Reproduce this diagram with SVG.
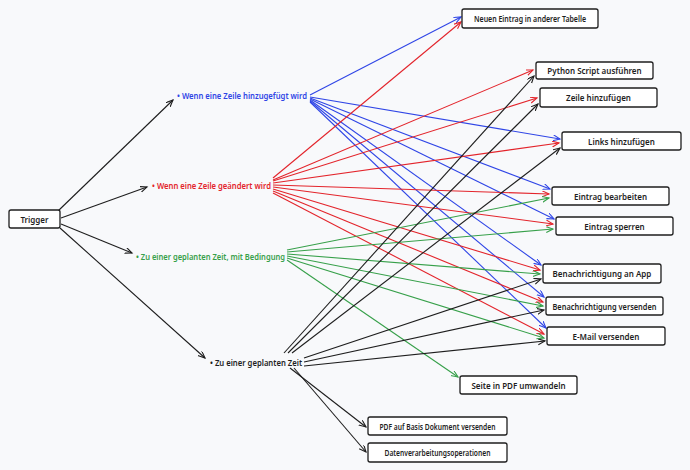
<svg xmlns="http://www.w3.org/2000/svg" width="690" height="470" viewBox="0 0 690 470">
<style>
.bg{fill:#f8f9fb}
.box{fill:#ffffff;stroke:#1e1e1e;stroke-width:1.3}
.t{font-family:"Noto Sans","Liberation Sans",sans-serif;font-size:8px;font-weight:600;fill:#1e1e1e;text-anchor:middle;dominant-baseline:central}
.lbl{font-family:"Noto Sans","Liberation Sans",sans-serif;font-size:8.5px;font-weight:600;dominant-baseline:central}
.c{fill:none;stroke-width:1.1}
.k{stroke:#1e1e1e}
.b{stroke:#2f45e6}
.r{stroke:#e3242b}
.g{stroke:#37a04a}
</style>
<defs>
<marker id="mk" markerWidth="10" markerHeight="8" refX="7" refY="3" orient="auto" markerUnits="userSpaceOnUse"><path d="M0,0 L7,3 L0,6" fill="none" stroke="#1e1e1e" stroke-width="1.1"/></marker>
<marker id="mb" markerWidth="10" markerHeight="8" refX="7" refY="3" orient="auto" markerUnits="userSpaceOnUse"><path d="M0,0 L7,3 L0,6" fill="none" stroke="#2f45e6" stroke-width="1.1"/></marker>
<marker id="mr" markerWidth="10" markerHeight="8" refX="7" refY="3" orient="auto" markerUnits="userSpaceOnUse"><path d="M0,0 L7,3 L0,6" fill="none" stroke="#e3242b" stroke-width="1.1"/></marker>
<marker id="mg" markerWidth="10" markerHeight="8" refX="7" refY="3" orient="auto" markerUnits="userSpaceOnUse"><path d="M0,0 L7,3 L0,6" fill="none" stroke="#37a04a" stroke-width="1.1"/></marker>
</defs>
<rect class="bg" x="0" y="0" width="690" height="470"/>
<g id="connectors">
<g class="c k" marker-end="url(#mk)">
<line x1="58" y1="211" x2="173" y2="100"/>
<line x1="61" y1="218" x2="147" y2="187"/>
<line x1="61" y1="224" x2="132" y2="253"/>
<line x1="60" y1="228" x2="205" y2="358"/>
</g>
<g class="c b" marker-end="url(#mb)">
<line x1="310" y1="95" x2="461" y2="17"/>
<line x1="310" y1="97" x2="560" y2="139"/>
<line x1="310" y1="98" x2="550" y2="189"/>
<line x1="310" y1="99" x2="554" y2="219"/>
<line x1="310" y1="100" x2="541" y2="265"/>
<line x1="310" y1="101" x2="544" y2="297"/>
<line x1="310" y1="102" x2="546" y2="328"/>
</g>
<g class="c r" marker-end="url(#mr)">
<line x1="273" y1="178" x2="461" y2="22"/>
<line x1="273" y1="180" x2="533" y2="70"/>
<line x1="273" y1="181" x2="537" y2="98"/>
<line x1="273" y1="183" x2="559" y2="143"/>
<line x1="273" y1="185" x2="549" y2="194"/>
<line x1="273" y1="187" x2="553" y2="224"/>
<line x1="273" y1="189" x2="540" y2="270"/>
<line x1="273" y1="191" x2="543" y2="302"/>
<line x1="273" y1="193" x2="544" y2="334"/>
</g>
<g class="c g" marker-end="url(#mg)">
<line x1="287" y1="250" x2="549" y2="198"/>
<line x1="287" y1="252" x2="553" y2="229"/>
<line x1="287" y1="254" x2="540" y2="274"/>
<line x1="287" y1="256" x2="543" y2="306"/>
<line x1="287" y1="258" x2="544" y2="338"/>
<line x1="287" y1="260" x2="458" y2="377"/>
</g>
<g class="c k" marker-end="url(#mk)">
<line x1="284" y1="353" x2="534" y2="76"/>
<line x1="288" y1="353" x2="538" y2="104"/>
<line x1="292" y1="353" x2="560" y2="148"/>
<line x1="304" y1="358" x2="541" y2="279"/>
<line x1="304" y1="362" x2="544" y2="310"/>
<line x1="304" y1="366" x2="545" y2="341"/>
<line x1="290" y1="368" x2="366" y2="427"/>
<line x1="294" y1="368" x2="366" y2="452"/>
</g>
</g>
<g id="trigger"><rect class="box" x="9" y="210" width="51" height="18" rx="2"/><text class="t" x="34.5" y="219">Trigger</text></g>
<g id="l-blue"><text class="lbl" x="177" y="95" fill="#2f45e6" textLength="130" lengthAdjust="spacingAndGlyphs">• Wenn eine Zeile hinzugefügt wird</text></g>
<g id="l-red"><text class="lbl" x="152" y="185" fill="#e3242b" textLength="119" lengthAdjust="spacingAndGlyphs">• Wenn eine Zeile geändert wird</text></g>
<g id="l-green"><text class="lbl" x="136" y="256" fill="#37a04a" textLength="149" lengthAdjust="spacingAndGlyphs">• Zu einer geplanten Zeit, mit Bedingung</text></g>
<g id="l-black"><text class="lbl" x="210" y="362" fill="#1e1e1e" textLength="92" lengthAdjust="spacingAndGlyphs">• Zu einer geplanten Zeit</text></g>
<g id="n-neuen"><rect class="box" x="462" y="9" width="136" height="19" rx="2"/><text class="t" x="530" y="18.5" textLength="112" lengthAdjust="spacingAndGlyphs">Neuen Eintrag in anderer Tabelle</text></g>
<g id="n-python"><rect class="box" x="536" y="62" width="117" height="17" rx="2"/><text class="t" x="594.5" y="70.5">Python Script ausführen</text></g>
<g id="n-zeile"><rect class="box" x="540" y="88" width="117" height="19" rx="2"/><text class="t" x="598.5" y="97.5">Zeile hinzufügen</text></g>
<g id="n-links"><rect class="box" x="562" y="132" width="119" height="18" rx="2"/><text class="t" x="621.5" y="141">Links hinzufügen</text></g>
<g id="n-bearb"><rect class="box" x="552" y="187" width="117" height="18" rx="2"/><text class="t" x="610.5" y="196">Eintrag bearbeiten</text></g>
<g id="n-sperr"><rect class="box" x="556" y="217" width="117" height="18" rx="2"/><text class="t" x="614.5" y="226">Eintrag sperren</text></g>
<g id="n-app"><rect class="box" x="543" y="264" width="118" height="19" rx="2"/><text class="t" x="602" y="273.5">Benachrichtigung an App</text></g>
<g id="n-vers"><rect class="box" x="546" y="297" width="117" height="18" rx="2"/><text class="t" x="604.5" y="306" textLength="104" lengthAdjust="spacingAndGlyphs">Benachrichtigung versenden</text></g>
<g id="n-mail"><rect class="box" x="547" y="327" width="118" height="18" rx="2"/><text class="t" x="606" y="336">E-Mail versenden</text></g>
<g id="n-pdf"><rect class="box" x="460" y="376" width="117" height="18" rx="2"/><text class="t" x="518.5" y="385">Seite in PDF umwandeln</text></g>
<g id="n-pdfbasis"><rect class="box" x="368" y="417" width="139" height="18" rx="2"/><text class="t" x="437.5" y="426" textLength="116" lengthAdjust="spacingAndGlyphs">PDF auf Basis Dokument versenden</text></g>
<g id="n-daten"><rect class="box" x="368" y="443" width="139" height="19" rx="2"/><text class="t" x="437.5" y="452.5" textLength="106" lengthAdjust="spacingAndGlyphs">Datenverarbeitungsoperationen</text></g>
</svg>
